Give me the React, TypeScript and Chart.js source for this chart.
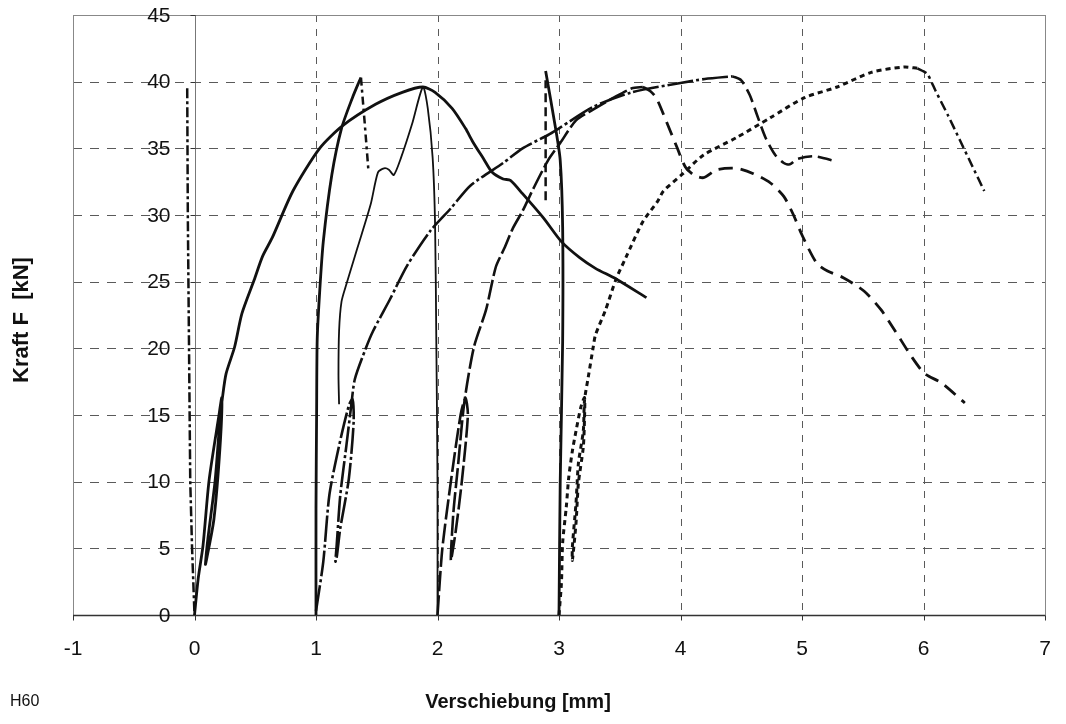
import React, { useEffect, useRef } from "react";
import { Chart, registerables } from "chart.js";

Chart.register(...registerables);

// ---- axis ticks & texts ----
const xTickValues = [-1, 0, 1, 2, 3, 4, 5, 6, 7];
const yTickValues = [0, 5, 10, 15, 20, 25, 30, 35, 40, 45];
const xAxisTitle = "Verschiebung [mm]";
const yAxisTitle = "Kraft F  [kN]";
const specimenLabel = "H60";

// ---- series (Verschiebung [mm], Kraft [kN]) ----
const dropNearZero: [number, number][] = [
  [-0.06, 39.5], [-0.055, 30], [-0.05, 25], [-0.04, 15], [-0.035, 10], [-0.02, 5], [-0.01, 2.5], [0, 0],
];

const solidMain: [number, number][] = [
  [0, 0], [0.03, 2.7], [0.07, 5.2], [0.12, 10.1], [0.2, 14.9], [0.225, 16.3], [0.21, 12.6], [0.16, 7.2],
  [0.1, 4.2], [0.09, 3.8], [0.11, 5.7], [0.17, 10.1], [0.21, 14.7], [0.23, 16.3], [0.26, 18.1], [0.33, 20.1],
  [0.39, 22.6], [0.49, 25.1], [0.56, 26.9], [0.64, 28.3], [0.81, 31.8], [1.03, 35.0], [1.22, 36.7],
  [1.49, 38.3], [1.71, 39.2], [1.88, 39.6], [1.98, 39.2], [2.12, 38.0], [2.23, 36.5], [2.29, 35.5],
  [2.38, 34.2], [2.45, 33.2], [2.54, 32.7], [2.6, 32.6], [2.7, 31.6], [2.87, 29.8], [3.02, 28.0],
  [3.17, 26.8], [3.3, 26.0], [3.47, 25.2], [3.72, 23.8],
];

const solidSteep1: [number, number][] = [
  [1.0, 0], [1.0, 8], [1.005, 15], [1.01, 20.7], [1.03, 24.2], [1.06, 28.0], [1.13, 33.0], [1.21, 36.5],
  [1.3, 38.8], [1.35, 39.9], [1.37, 40.3],
];
const dropAfterSteep1: [number, number][] = [
  [1.37, 40.3], [1.4, 37], [1.43, 33.5],
];

const thinSolid: [number, number][] = [
  [1.19, 15.8], [1.185, 18], [1.19, 21.3], [1.21, 23.5], [1.25, 24.8], [1.3, 26.3], [1.34, 27.5],
  [1.45, 30.8], [1.51, 33.2], [1.56, 33.5], [1.6, 33.4], [1.64, 33.0], [1.7, 34.3], [1.79, 36.8],
  [1.88, 39.6], [1.92, 38.0], [1.96, 34.3], [1.98, 29.3], [1.99, 20.7], [2.0, 10], [2.0, 0],
];

const dashDotRise: [number, number][] = [
  [1.0, 0.3], [1.06, 4.0], [1.11, 9.0], [1.19, 12.7], [1.27, 15.7], [1.3, 16.2], [1.31, 14.5],
  [1.27, 10.2], [1.2, 6.5], [1.17, 4.3], [1.16, 4.0], [1.17, 5.2], [1.2, 9.0], [1.25, 12.7],
  [1.29, 15.7], [1.32, 17.7], [1.41, 20.0], [1.47, 21.3], [1.61, 23.7], [1.75, 26.2], [1.94, 28.8],
  [2.11, 30.5], [2.27, 32.2], [2.54, 33.9], [2.7, 35.0], [2.91, 36.0], [3.0, 36.5], [3.28, 38.1],
  [3.6, 39.2], [4.0, 39.9], [4.2, 40.2], [4.43, 40.4],
];
const dashDotTail: [number, number][] = [
  [4.43, 40.4], [4.5, 40.1], [4.57, 39.0], [4.63, 37.5], [4.7, 35.8], [4.78, 34.5], [4.85, 33.9],
  [4.9, 33.8], [4.96, 34.2], [5.1, 34.4], [5.29, 34.0],
];

const dashedRise: [number, number][] = [
  [2.0, 0], [2.04, 5], [2.11, 10], [2.19, 15], [2.23, 16.3], [2.25, 15], [2.2, 10], [2.15, 6.3],
  [2.11, 4.1], [2.13, 7.6], [2.17, 11.3], [2.22, 15.9], [2.3, 20.1], [2.4, 22.9], [2.48, 26.1],
  [2.55, 27.5], [2.62, 29.0], [2.7, 30.3], [2.79, 32.0], [2.91, 34.1], [3.01, 35.4], [3.14, 37.1],
  [3.28, 37.9], [3.45, 38.8], [3.6, 39.5], [3.69, 39.6],
];
const dashedTail: [number, number][] = [
  [3.69, 39.6], [3.75, 39.3], [3.8, 38.8], [3.88, 37.1], [3.97, 35.1], [4.04, 33.6], [4.11, 33.0],
  [4.19, 32.8], [4.3, 33.4], [4.46, 33.5], [4.6, 33.1], [4.74, 32.4], [4.85, 31.4], [4.93, 30.0],
  [5.0, 28.5], [5.12, 26.4], [5.21, 25.8], [5.34, 25.3], [5.51, 24.3], [5.65, 22.9], [5.76, 21.4],
  [5.9, 19.4], [6.01, 18.1], [6.15, 17.4], [6.34, 15.9],
];

const dashRiseAt3: [number, number][] = [
  [2.89, 31.1], [2.89, 40.1],
];
const solidSteep3: [number, number][] = [
  [2.89, 40.8], [2.97, 36.6], [3.01, 34.1], [3.03, 29.1], [3.03, 20.5], [3.01, 10], [3.0, 0],
];

const dottedRise: [number, number][] = [
  [3.0, 0], [3.02, 2.4], [3.03, 5.4], [3.06, 8.1], [3.08, 10.3], [3.11, 12.3], [3.14, 13.8],
  [3.18, 15.6], [3.21, 16.3], [3.21, 14.8], [3.2, 12.6], [3.16, 9.9], [3.14, 6.9], [3.11, 4.1],
  [3.11, 5.1], [3.14, 8.4], [3.16, 11.4], [3.2, 13.8], [3.21, 16.1], [3.24, 17.8], [3.28, 20.0],
  [3.3, 21.0], [3.38, 22.8], [3.47, 25.2], [3.55, 26.8], [3.69, 29.5], [3.81, 31.0], [3.86, 31.8],
  [4.02, 33.1], [4.19, 34.5], [4.46, 35.8], [4.74, 37.3], [5.02, 38.8], [5.29, 39.6], [5.57, 40.7],
  [5.84, 41.1], [5.95, 41.0],
];
const dottedTail: [number, number][] = [
  [5.95, 41.0], [6.03, 40.6], [6.1, 39.3], [6.2, 37.5], [6.3, 35.6], [6.4, 33.7], [6.5, 31.8],
];

const FONT = "'Liberation Sans', Arial, Helvetica, sans-serif";
const INK = "#111";

function series(pts: [number, number][], width: number, dash: number[], tension = 0.2) {
  return {
    data: pts.map(([x, y]) => ({ x, y })),
    showLine: true,
    borderColor: INK,
    backgroundColor: INK,
    borderWidth: width,
    borderDash: dash,
    borderCapStyle: "butt",
    borderJoinStyle: "round",
    pointRadius: 0,
    pointHoverRadius: 0,
    tension,
    fill: false,
  };
}

const framePlugin = {
  id: "frame",
  beforeDatasetsDraw(chart: any) {
    const { ctx, chartArea, scales } = chart;
    const { left, right, top, bottom } = chartArea;
    const x = scales.x;
    const y = scales.y;
    ctx.save();
    ctx.lineWidth = 1;
    ctx.strokeStyle = "#5a5a5a";
    ctx.setLineDash([9, 8]);
    for (const v of yTickValues) {
      if (v <= 0 || v >= 45) continue;
      const py = Math.round(y.getPixelForValue(v)) + 0.5;
      ctx.beginPath();
      ctx.moveTo(left, py);
      ctx.lineTo(right, py);
      ctx.stroke();
    }
    ctx.setLineDash([7, 7]);
    for (const v of xTickValues) {
      if (v <= -1 || v >= 7 || v === 0) continue;
      const px = Math.round(x.getPixelForValue(v)) + 0.5;
      ctx.beginPath();
      ctx.moveTo(px, top);
      ctx.lineTo(px, bottom);
      ctx.stroke();
    }
    ctx.setLineDash([]);
    ctx.strokeStyle = "#888";
    ctx.strokeRect(Math.round(left) + 0.5, Math.round(top) + 0.5, Math.round(right - left), Math.round(bottom - top));
    ctx.strokeStyle = "#777";
    const x0 = Math.round(x.getPixelForValue(0)) + 0.5;
    ctx.beginPath();
    ctx.moveTo(x0, top);
    ctx.lineTo(x0, bottom);
    ctx.stroke();
    ctx.strokeStyle = "#333";
    ctx.lineWidth = 1.3;
    const yb = Math.round(y.getPixelForValue(0)) + 0.5;
    ctx.beginPath();
    ctx.moveTo(left, yb);
    ctx.lineTo(right, yb);
    ctx.stroke();
    ctx.lineWidth = 1;
    for (const v of xTickValues) {
      const px = Math.round(x.getPixelForValue(v)) + 0.5;
      ctx.beginPath();
      ctx.moveTo(px, yb);
      ctx.lineTo(px, yb + 5);
      ctx.stroke();
    }
    for (const v of yTickValues) {
      const py = Math.round(y.getPixelForValue(v)) + 0.5;
      ctx.beginPath();
      ctx.moveTo(x0 - 5, py);
      ctx.lineTo(x0, py);
      ctx.stroke();
    }
    ctx.restore();
  },
  afterDraw(chart: any) {
    const { ctx, scales } = chart;
    const x = scales.x;
    const y = scales.y;
    const x0 = x.getPixelForValue(0);
    ctx.save();
    ctx.fillStyle = INK;
    ctx.font = `21px ${FONT}`;
    ctx.textAlign = "right";
    ctx.textBaseline = "middle";
    for (const v of yTickValues) {
      ctx.fillText(String(v), x0 - 24, y.getPixelForValue(v) + 1);
    }
    ctx.textAlign = "center";
    for (const v of xTickValues) {
      ctx.fillText(String(v), x.getPixelForValue(v), 649);
    }
    ctx.font = `bold 20px ${FONT}`;
    ctx.fillText(xAxisTitle, 518, 702);
    ctx.save();
    ctx.translate(22, 320);
    ctx.rotate(-Math.PI / 2);
    ctx.font = `bold 22px ${FONT}`;
    ctx.fillText(yAxisTitle, 0, 0);
    ctx.restore();
    ctx.font = `16px ${FONT}`;
    ctx.textAlign = "left";
    ctx.fillText(specimenLabel, 10, 702);
    ctx.restore();
  },
};

export default function App() {
  const canvasRef = useRef<HTMLCanvasElement | null>(null);

  useEffect(() => {
    const canvas = canvasRef.current;
    if (!canvas) return;
    const chart = new Chart(canvas, {
      type: "scatter",
      data: {
        datasets: [
          series(dropNearZero, 2.5, [10, 3, 3, 3], 0),
          series(solidMain, 2.8, [], 0.25),
          series(solidSteep1, 2.8, [], 0.25),
          series(dropAfterSteep1, 2.5, [8, 4, 3, 4], 0),
          series(thinSolid, 1.8, [], 0.25),
          series(dashDotRise, 2.6, [26, 3, 3, 3], 0.25),
          series(dashDotTail, 2.6, [14, 6], 0.25),
          series(dashedRise, 2.6, [20, 4], 0.25),
          series(dashedTail, 2.8, [14, 8], 0.25),
          series(dashRiseAt3, 2.5, [9, 5], 0),
          series(solidSteep3, 2.8, [], 0.25),
          series(dottedRise, 3, [5, 4], 0.25),
          series(dottedTail, 2.5, [10, 4, 3, 4], 0.2),
        ] as any,
      },
      options: {
        responsive: false,
        animation: false,
        events: [],
        layout: { padding: { left: 73, right: 21, top: 15, bottom: 109 } },
        plugins: {
          legend: { display: false },
          tooltip: { enabled: false },
        },
        scales: {
          x: { type: "linear", min: -1, max: 7, display: false },
          y: { type: "linear", min: 0, max: 45, display: false },
        },
      },
      plugins: [framePlugin],
    });
    return () => chart.destroy();
  }, []);

  return (
    <div style={{ position: "absolute", left: 0, top: 0, width: 1066, height: 724, background: "#fff" }}>
      <canvas ref={canvasRef} width={1066} height={724} style={{ display: "block" }} />
    </div>
  );
}
